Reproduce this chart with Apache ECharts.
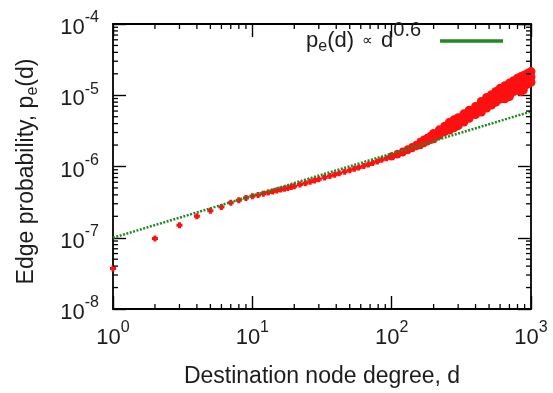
<!DOCTYPE html>
<html>
<head>
<meta charset="utf-8">
<script src="https://cdn.jsdelivr.net/npm/echarts@6/dist/echarts.min.js"></script>
<style>
  html, body { margin: 0; padding: 0; background: #fff; }
  #chart { width: 553px; height: 393px; }
</style>
</head>
<body>
<div id="chart"></div>
<script>
// low-degree points
const lowDegree = [1, 2, 3, 4, 5, 6, 7, 8, 9, 10, 11, 12, 13, 14, 15, 16, 17, 18, 19,
  20, 22, 24, 26, 28, 30, 33, 36, 39, 42, 46, 50, 54, 58, 63, 68, 73, 79, 85, 92];
const lowProb = [3.7e-8, 9.8e-8, 1.5e-7, 2.0e-7, 2.4e-7, 2.7e-7, 3.1e-7, 3.36e-7, 3.6e-7,
  3.81e-7, 3.98e-7, 4.14e-7, 4.30e-7, 4.45e-7, 4.59e-7, 4.74e-7, 4.88e-7, 5.01e-7, 5.14e-7,
  5.28e-7, 5.57e-7, 5.84e-7, 6.11e-7, 6.38e-7, 6.62e-7, 7.00e-7, 7.35e-7, 7.68e-7, 8.02e-7,
  8.44e-7, 8.86e-7, 9.27e-7, 9.66e-7, 1.02e-6, 1.07e-6, 1.12e-6, 1.18e-6, 1.24e-6, 1.31e-6];

// high-degree band: centre plus upper / lower edge of the cloud
const bandDegree = [100, 110, 120, 130, 140, 150, 160, 170, 180, 190, 200, 220, 240, 260, 280, 300,
  330, 360, 400, 440, 480, 520, 560, 600, 650, 700, 750, 800, 850, 900, 950, 1000];
const bandMid = [1.39e-6, 1.49e-6, 1.60e-6, 1.72e-6, 1.84e-6, 1.97e-6, 2.11e-6, 2.25e-6, 2.39e-6,
  2.52e-6, 2.66e-6, 3.0e-6, 3.35e-6, 3.68e-6, 3.97e-6, 4.25e-6, 4.8e-6, 5.4e-6, 6.1e-6, 6.9e-6,
  7.8e-6, 8.6e-6, 9.5e-6, 1.05e-5, 1.14e-5, 1.24e-5, 1.34e-5, 1.45e-5, 1.53e-5, 1.62e-5, 1.71e-5, 1.81e-5];
const bandUpper = [1.42e-6, 1.53e-6, 1.65e-6, 1.78e-6, 1.91e-6, 2.05e-6, 2.27e-6, 2.43e-6, 2.58e-6,
  2.74e-6, 2.90e-6, 3.27e-6, 3.66e-6, 4.18e-6, 4.52e-6, 4.85e-6, 5.48e-6, 6.17e-6, 6.98e-6, 8.2e-6,
  9.3e-6, 1.02e-5, 1.13e-5, 1.25e-5, 1.36e-5, 1.48e-5, 1.60e-5, 1.73e-5, 1.83e-5, 1.93e-5, 2.04e-5, 2.15e-5];
const bandLower = [1.36e-6, 1.45e-6, 1.55e-6, 1.66e-6, 1.77e-6, 1.90e-6, 1.95e-6, 2.08e-6, 2.21e-6,
  2.32e-6, 2.45e-6, 2.76e-6, 3.08e-6, 3.24e-6, 3.49e-6, 3.74e-6, 4.22e-6, 4.75e-6, 5.35e-6, 5.8e-6,
  6.6e-6, 7.3e-6, 8.0e-6, 8.85e-6, 9.6e-6, 1.04e-5, 1.13e-5, 1.22e-5, 1.29e-5, 1.36e-5, 1.44e-5, 1.52e-5];
const outlierDegree = [650, 700, 840, 880];
const outlierProb = [8.9e-6, 9.6e-6, 1.13e-5, 1.18e-5];

// fitted power law p_e(d) ~ d^0.6
const fitDegree = [1, 1000];
const fitProb = [1.0e-7, 5.9e-6];

const xMin = 1, xMax = 1000, yMin = 1e-8, yMax = 1e-4;
const xMinor = [2, 3, 4, 5, 6, 7, 8, 9, 20, 30, 40, 50, 60, 70, 80, 90, 200, 300, 400, 500, 600, 700, 800, 900];
const yMinor = [2e-8, 3e-8, 4e-8, 5e-8, 6e-8, 7e-8, 8e-8, 9e-8,
  2e-7, 3e-7, 4e-7, 5e-7, 6e-7, 7e-7, 8e-7, 9e-7,
  2e-6, 3e-6, 4e-6, 5e-6, 6e-6, 7e-6, 8e-6, 9e-6,
  2e-5, 3e-5, 4e-5, 5e-5, 6e-5, 7e-5, 8e-5, 9e-5];

const FONT = '"Liberation Sans", Arial, sans-serif';
const INK = '#1c1c1c';
const RED = '#ff1010';
const GREEN = '#1f8a1f';

const lowPoints = lowDegree.map((d, i) => [d, lowProb[i]]);
const bandPoints = [];
bandDegree.forEach((d, i) => {
  bandPoints.push([d, bandLower[i]]);
  bandPoints.push([d, bandMid[i]]);
  bandPoints.push([d, bandUpper[i]]);
});
outlierDegree.forEach((d, i) => bandPoints.push([d, outlierProb[i]]));

function powLabel(v) {
  const e = Math.round(Math.log10(v));
  return '{b|10}{s|' + e + '}';
}
// padding is used to push the exponent up and the base slightly down
const powRich = {
  b: { fontSize: 22, fontFamily: FONT, color: INK, padding: [8, 0, 0, 0] },
  s: { fontSize: 16, fontFamily: FONT, color: INK, padding: [0, 0, 12, 0] }
};

const frameLine = { lineStyle: { color: '#000', width: 1.8 } };
const majorTick = { inside: true, length: 13, lineStyle: { color: '#000', width: 1.4 } };

// minor ticks at 2..9 of each decade, on all four sides
function minorTicks(params, api) {
  const len = 5;
  const style = { stroke: '#000', lineWidth: 1.3 };
  const vx = api.value(0), vy = api.value(1);
  if (params.seriesName === 'xminor') {
    const b = api.coord([vx, yMin]), t = api.coord([vx, yMax]);
    return { type: 'group', children: [
      { type: 'line', shape: { x1: b[0], y1: b[1], x2: b[0], y2: b[1] - len }, style },
      { type: 'line', shape: { x1: t[0], y1: t[1], x2: t[0], y2: t[1] + len }, style }
    ] };
  }
  const l = api.coord([xMin, vy]), r = api.coord([xMax, vy]);
  return { type: 'group', children: [
    { type: 'line', shape: { x1: l[0], y1: l[1], x2: l[0] + len, y2: l[1] }, style },
    { type: 'line', shape: { x1: r[0], y1: r[1], x2: r[0] - len, y2: r[1] }, style }
  ] };
}

const chart = echarts.init(document.getElementById('chart'));

chart.setOption({
  animation: false,
  backgroundColor: '#fff',
  grid: { left: 113, top: 24, width: 418, height: 296 },
  legend: {
    data: [{ name: 'fit', icon: 'rect' }],
    left: 306, top: 20, padding: 0,
    align: 'right',
    itemWidth: 63, itemHeight: 3.5,
    itemStyle: { color: GREEN, borderWidth: 0 },
    formatter: () => '{p|p}{sub|e}{p|(d)}{prop|\u221d}{p|d}{sup|0.6}{gap| }',
    textStyle: {
      rich: {
        p: { fontSize: 22, fontFamily: FONT, color: INK },
        prop: { fontSize: 15, fontFamily: FONT, color: INK, width: 27, align: 'center' },
        sub: { fontSize: 16, fontFamily: FONT, color: INK, padding: [12, 0, 0, 0] },
        sup: { fontSize: 20, fontFamily: FONT, color: INK, padding: [0, 0, 22, 0] },
        gap: { fontSize: 10, width: 14 }
      }
    }
  },
  xAxis: [{
    type: 'log', logBase: 10, min: xMin, max: xMax,
    position: 'bottom',
    axisLine: frameLine, axisTick: majorTick, splitLine: { show: false },
    axisLabel: { margin: 10, formatter: powLabel, rich: powRich },
    name: 'Destination node degree, d',
    nameLocation: 'middle', nameGap: 56,
    nameTextStyle: { fontSize: 23, fontFamily: FONT, color: INK }
  }, {
    type: 'log', logBase: 10, min: xMin, max: xMax,
    position: 'top',
    axisLine: frameLine, axisTick: majorTick, splitLine: { show: false },
    axisLabel: { show: false }
  }],
  yAxis: [{
    type: 'log', logBase: 10, min: yMin, max: yMax,
    position: 'left',
    axisLine: frameLine, axisTick: majorTick, splitLine: { show: false },
    axisLabel: { margin: 14, formatter: powLabel, rich: powRich },
    name: '{t|Edge probability, p}{sub|e}{t|(d)}',
    nameLocation: 'middle', nameGap: 72, nameRotate: 90,
    nameTextStyle: {
      padding: [0, 10, 0, 0],
      rich: {
        t: { fontSize: 23, fontFamily: FONT, color: INK, lineHeight: 28 },
        sub: { fontSize: 16, fontFamily: FONT, color: INK, padding: [12, 0, 0, 0] }
      }
    }
  }, {
    type: 'log', logBase: 10, min: yMin, max: yMax,
    position: 'right',
    axisLine: frameLine, axisTick: majorTick, splitLine: { show: false },
    axisLabel: { show: false }
  }],
  series: [{
    name: 'data',
    type: 'scatter',
    data: lowPoints,
    symbol: 'path://M1.5,0H4.5V1.5H6V4.5H4.5V6H1.5V4.5H0V1.5H1.5Z',
    symbolSize: 6,
    clip: false,
    itemStyle: { color: RED, opacity: 1 },
    z: 2
  }, {
    name: 'band',
    type: 'scatter',
    data: bandPoints,
    symbol: 'circle',
    symbolSize: v => (v[0] < 200 ? 7 : 9),
    clip: false,
    itemStyle: { color: RED, opacity: 1 },
    z: 2
  }, {
    name: 'fit',
    type: 'line',
    data: fitDegree.map((d, i) => [d, fitProb[i]]),
    showSymbol: false, symbol: 'none',
    itemStyle: { color: GREEN },
    lineStyle: { color: GREEN, width: 2.5, type: [2, 1.5] },
    z: 3
  }, {
    name: 'xminor',
    type: 'custom',
    renderItem: minorTicks,
    data: xMinor.map(v => [v, yMin]),
    silent: true, z: 4
  }, {
    name: 'yminor',
    type: 'custom',
    renderItem: minorTicks,
    data: yMinor.map(v => [xMin, v]),
    silent: true, z: 4
  }]
});
</script>
</body>
</html>
